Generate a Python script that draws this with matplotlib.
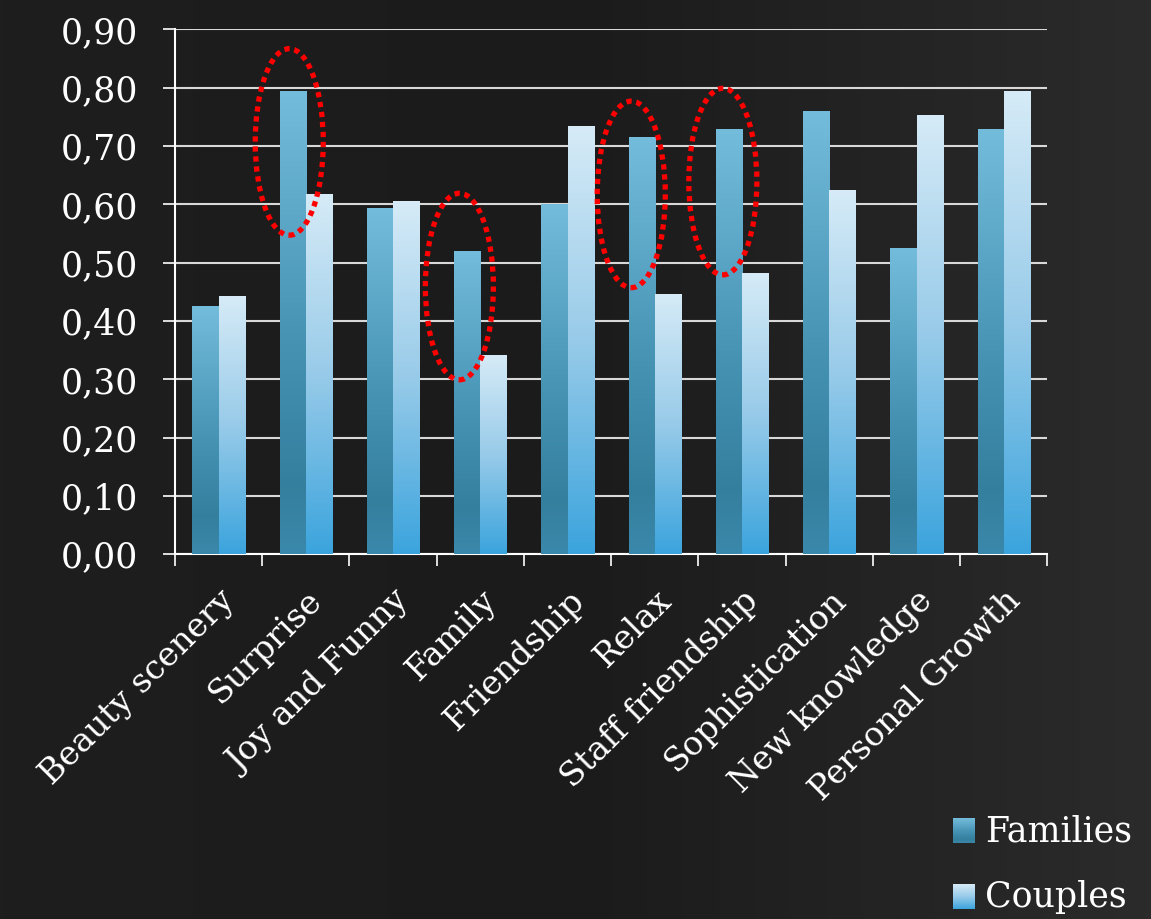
import numpy as np
import matplotlib
matplotlib.use('Agg')
import matplotlib.pyplot as plt
from matplotlib.colors import LinearSegmentedColormap
from matplotlib.patches import Ellipse

# данные
categories = ['Beauty scenery', 'Surprise', 'Joy and Funny', 'Family', 'Friendship',
              'Relax', 'Staff friendship', 'Sophistication', 'New knowledge', 'Personal Growth']
families = [0.425, 0.795, 0.593, 0.520, 0.600, 0.715, 0.730, 0.760, 0.525, 0.730]
couples = [0.442, 0.617, 0.605, 0.341, 0.734, 0.446, 0.482, 0.624, 0.753, 0.795]
y_ticks = [0.0, 0.1, 0.2, 0.3, 0.4, 0.5, 0.6, 0.7, 0.8, 0.9]
y_labels = ['0,00', '0,10', '0,20', '0,30', '0,40', '0,50', '0,60', '0,70', '0,80', '0,90']
series_names = ['Families', 'Couples']

# выделенные эллипсы: (центр x, центр y)
highlight_centers = [(0.81, 0.707), (2.76, 0.459), (4.73, 0.617), (5.78, 0.639)]

plt.rcParams['font.family'] = ['DejaVu Serif']

cmap_fam = LinearSegmentedColormap.from_list(
    'fam', [(0, '#3a88ab'), (0.15, '#357f9e'), (0.45, '#4592b3'), (1, '#74bcdb')])
cmap_cou = LinearSegmentedColormap.from_list(
    'cou', [(0, '#3ba4dd'), (0.5, '#98cbe9'), (1, '#d6ebf7')])

fig = plt.figure(figsize=(11.51, 9.19), dpi=100)

# фон
bg = fig.add_axes([0, 0, 1, 1])
grad = np.linspace(0, 1, 256).reshape(1, -1)
bg.imshow(grad, aspect='auto', extent=[0, 1, 0, 1],
          cmap=LinearSegmentedColormap.from_list('bg', ['#1e1e1e', '#1b1b1b', '#2b2b2b']))
bg.set_axis_off()

ax = fig.add_axes([0.152, 0.397, 0.758, 0.571])
ax.patch.set_alpha(0)

x = np.arange(len(categories))
w = 0.3
bars_f = ax.bar(x - w / 2, families, w, color='none')
bars_c = ax.bar(x + w / 2, couples, w, color='none')

vgrad = np.linspace(0, 1, 256).reshape(-1, 1)
for bars, cm in [(bars_f, cmap_fam), (bars_c, cmap_cou)]:
    for b in bars:
        x0, h, bw = b.get_x(), b.get_height(), b.get_width()
        im = ax.imshow(vgrad, aspect='auto', extent=[x0, x0 + bw, 0, h],
                       origin='lower', cmap=cm, zorder=3)
        im.set_clip_path(b)

for cx, cy in highlight_centers:
    ax.add_patch(Ellipse((cx, cy), 0.78, 0.32, fill=False, edgecolor='#ff0000',
                         lw=3.8, ls=(0, (1, 0.9)), zorder=5))

ax.set_xlim(-0.5, len(categories) - 0.5)
ax.set_ylim(0, 0.9)
ax.set_yticks(y_ticks)
ax.set_yticklabels(y_labels, fontsize=25, color='white')
ax.set_xticks(x)
ax.set_xticklabels(categories, rotation=45, ha='right', rotation_mode='anchor',
                   fontsize=24, color='white')
ax.tick_params(axis='x', length=0, pad=22)
ax.set_xticks(np.arange(-0.5, len(categories)), minor=True)
ax.tick_params(axis='x', which='minor', length=8.5, color='white', width=1.2)
ax.tick_params(axis='y', length=8.5, color='white', width=1.2, pad=18)

ax.grid(axis='y', color='#d8d8d8', lw=1.5, zorder=1)
ax.set_axisbelow(True)
for s in ['top', 'right']:
    ax.spines[s].set_visible(False)
for s in ['left', 'bottom']:
    ax.spines[s].set_color('white')
    ax.spines[s].set_linewidth(1.5)

# легенда
for i, (name, cm) in enumerate(zip(series_names, [cmap_fam, cmap_cou])):
    y0 = 1 - (843 + i * 66) / 919
    la = fig.add_axes([953 / 1151, y0, 22 / 1151, 25 / 919])
    la.imshow(vgrad, aspect='auto', origin='lower', cmap=cm)
    la.set_axis_off()
    fig.text(985 / 1151, y0 + 12 / 919, name, fontsize=25, color='white', va='center')

plt.savefig('out.png', dpi=100)
